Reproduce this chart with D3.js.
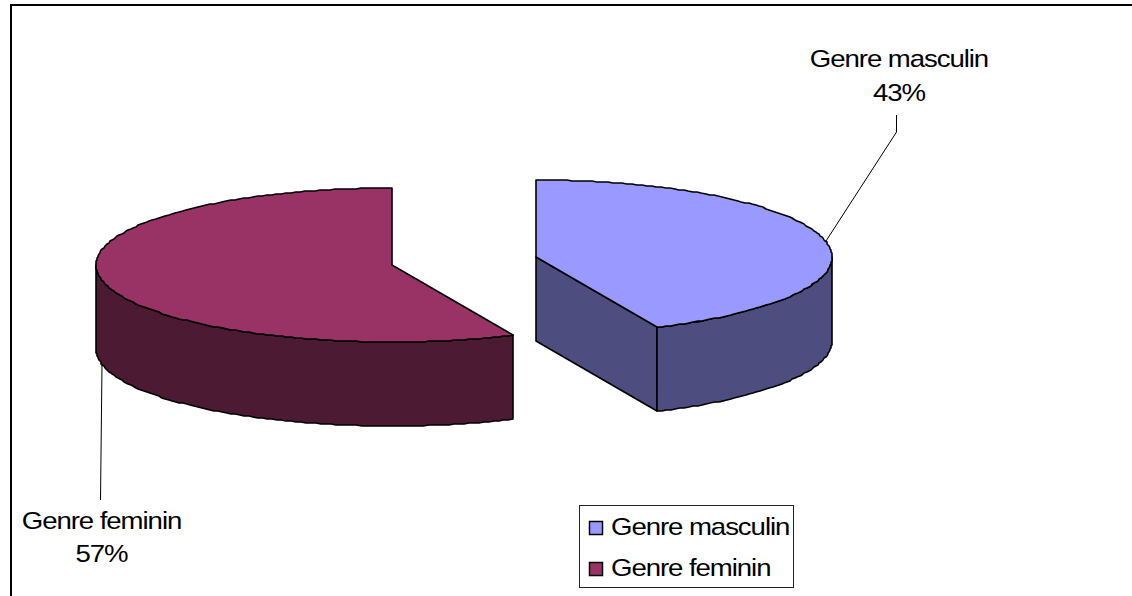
<!DOCTYPE html>
<html><head><meta charset="utf-8">
<script src="https://cdn.jsdelivr.net/npm/d3@7"></script>
<style>html,body{margin:0;padding:0;background:#fff}svg{display:block}text{font-family:"Liberation Sans",Arial,sans-serif;fill:#000}</style>
</head><body><svg id="c" width="1132" height="596"></svg>
<script>
const categories = ["Genre masculin", "Genre feminin"];
const values = [43.3, 56.7];
const labels = ["43%", "57%"];
const topColors = ["#9999ff", "#993366"];
const sideColors = ["#4d4d80", "#4d1a33"];

const svg = d3.select("#c");
const pie = d3.pie().sort(null).value(d => d)(values);
const rx = 296, ry = 77, depth = 84;
const centers = [[536, 257], [392, 265]];
const line = d3.line();

svg.append("path").attr("d", line([[11, 596], [11, 5], [1132, 5]]))
  .attr("fill", "none").attr("stroke", "#000").attr("stroke-width", 2);

const px = (c, a) => [Math.round(c[0] + rx * Math.sin(a)), Math.round(c[1] - ry * Math.cos(a))];
const arcPts = (c, a0, a1) => {
  const n = Math.max(2, Math.round(Math.abs(a1 - a0) / (Math.PI / 180)));
  return d3.range(n + 1).map(i => px(c, a0 + (a1 - a0) * i / n));
};
const draw = (pts, fill) => svg.append("path").attr("d", line(pts) + "Z")
  .attr("fill", fill).attr("stroke", "#000").attr("stroke-width", 1.6).attr("stroke-linejoin", "round");
const down = p => [p[0], p[1] + depth];

// feminine (back slice drawn first)
{
  const c = centers[1], s = pie[1];
  const wall = arcPts(c, s.startAngle, 1.5 * Math.PI);
  draw(wall.concat(wall.map(down).reverse()), sideColors[1]);
  draw([c].concat(arcPts(c, s.startAngle, s.endAngle)), topColors[1]);
}
// masculine
{
  const c = centers[0], s = pie[0];
  const e = px(c, s.endAngle);
  draw([c, e, down(e), down(c)], sideColors[0]);
  const wall = arcPts(c, Math.PI / 2, s.endAngle);
  draw(wall.concat(wall.map(down).reverse()), sideColors[0]);
  draw([c].concat(arcPts(c, s.startAngle, s.endAngle)), topColors[0]);
}

// leader lines
svg.append("path").attr("d", line([[826, 241], [896.5, 132], [896.5, 115]]))
  .attr("fill", "none").attr("stroke", "#000").attr("stroke-width", 1);
svg.append("path").attr("d", line([[102, 364], [100.5, 500]]))
  .attr("fill", "none").attr("stroke", "#000").attr("stroke-width", 1);

// text is horizontally stretched in the reference
const fs = 24, sx = 1.15;
const put = (x, y, t, anchor, ls) => svg.append("text")
  .attr("transform", `translate(${x},${y}) scale(${sx},1)`)
  .attr("text-anchor", anchor).attr("font-size", fs).attr("letter-spacing", ls).text(t);

const dl = [{x: 899, y: [67, 101], i: 0}, {x: 101.5, y: [529, 562], i: 1}];
dl.forEach(d => {
  [categories[d.i], labels[d.i]].forEach((t, k) => put(d.x, d.y[k], t, "middle", -0.93));
});

// legend
svg.append("rect").attr("x", 579.5).attr("y", 505.5).attr("width", 214).attr("height", 82)
  .attr("fill", "#fff").attr("stroke", "#222").attr("stroke-width", 1);
categories.forEach((t, i) => {
  const y = 521 + i * 41;
  svg.append("rect").attr("x", 589.5).attr("y", y + .5).attr("width", 13).attr("height", 13)
    .attr("fill", topColors[i]).attr("stroke", "#000").attr("stroke-width", 1.5);
  put(611, y + 14, t, "start", -0.93);
});
</script></body></html>
